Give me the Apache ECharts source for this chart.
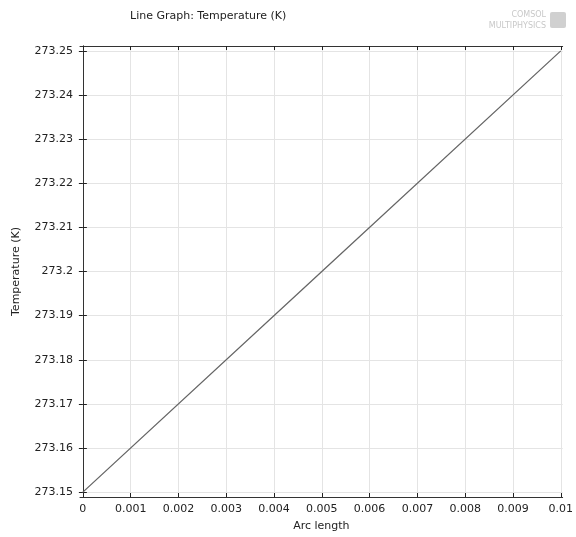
<!DOCTYPE html>
<html>
<head>
<meta charset="utf-8">
<script src="https://cdn.jsdelivr.net/npm/echarts@6/dist/echarts.min.js"></script>
<style>
  html, body { margin: 0; padding: 0; background: #fff; }
  #chart { width: 576px; height: 537px; }
</style>
</head>
<body>
<div id="chart"></div>
<script>
// data
var arcLength = [0, 0.005, 0.01];
var temperature = [273.15, 273.2, 273.25];
var xTicks = [0, 0.001, 0.002, 0.003, 0.004, 0.005, 0.006, 0.007, 0.008, 0.009, 0.01];
var yTicks = [273.15, 273.16, 273.17, 273.18, 273.19, 273.2, 273.21, 273.22, 273.23, 273.24, 273.25];

var chart = echarts.init(document.getElementById("chart"));
var font = "DejaVu Sans";

function axisBase(ticks, showLabel) {
  return {
    type: "value",
    axisLine: { show: true, lineStyle: { color: "#333", width: 1 } },
    axisTick: { show: true, inside: true, length: 4, customValues: ticks, lineStyle: { color: "#222" } },
    axisLabel: {
      show: showLabel,
      customValues: ticks,
      color: "#222",
      fontFamily: font,
      fontSize: 11,
      formatter: function (v) { return String(v); }
    },
    splitLine: { show: showLabel, lineStyle: { color: "#e4e4e4", width: 1 } }
  };
}

var xMain = axisBase(xTicks, true);
xMain.position = "bottom";
xMain.min = -0.00006;
xMain.max = 0.01004;
xMain.name = "Arc length";
xMain.nameLocation = "middle";
xMain.nameGap = 24;
xMain.nameTextStyle = { color: "#222", fontFamily: font, fontSize: 11 };
xMain.axisLabel.margin = 7;

var xTop = axisBase(xTicks, false);
xTop.position = "top";
xTop.min = xMain.min;
xTop.max = xMain.max;

var yMain = axisBase(yTicks, true);
yMain.position = "left";
yMain.min = 273.1489;
yMain.max = 273.2511;
yMain.name = "Temperature (K)";
yMain.nameLocation = "middle";
yMain.nameGap = 58;
yMain.nameTextStyle = { color: "#222", fontFamily: font, fontSize: 11 };
yMain.axisLabel.margin = 7;

var yRight = axisBase(yTicks, false);
yRight.position = "right";
yRight.min = yMain.min;
yRight.max = yMain.max;

var option = {
  animation: false,
  backgroundColor: "#fff",
  title: {
    text: "Line Graph: Temperature (K)",
    left: 125,
    top: 6,
    textStyle: { color: "#222", fontFamily: font, fontSize: 11, fontWeight: "normal" }
  },
  graphic: [
    {
      type: "text",
      right: 30,
      top: 11,
      style: { text: "COMSOL", fill: "#c8c8c8", font: "8px DejaVu Sans", align: "right" }
    },
    {
      type: "text",
      right: 30,
      top: 22,
      style: { text: "MULTIPHYSICS", fill: "#c8c8c8", font: "8px DejaVu Sans", align: "right" }
    },
    {
      type: "rect",
      right: 10,
      top: 12,
      shape: { width: 16, height: 16, r: 2 },
      style: { fill: "#d0d0d0" }
    }
  ],
  grid: { left: 80, right: 7, top: 46, bottom: 36, containLabel: false },
  xAxis: [xMain, xTop],
  yAxis: [yMain, yRight],
  series: [
    {
      type: "line",
      data: arcLength.map(function (x, i) { return [x, temperature[i]]; }),
      showSymbol: false,
      lineStyle: { color: "#666", width: 1.3 }
    }
  ]
};
chart.setOption(option);
</script>
</body>
</html>
